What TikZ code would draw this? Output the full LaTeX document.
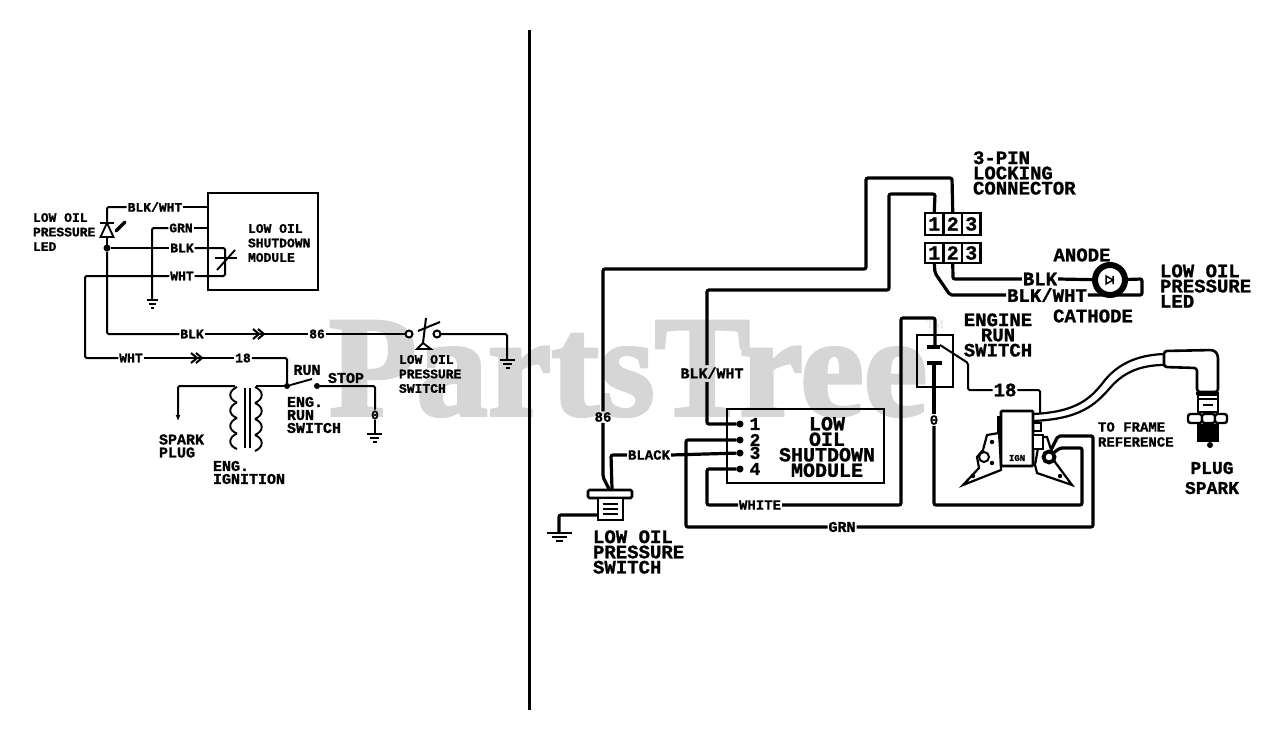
\documentclass[tikz,border=0pt]{standalone}
\usepackage{fontspec}
\usetikzlibrary{arrows.meta}
\setmainfont{Liberation Mono}[BoldFeatures={FakeBold=1.2}]
\newfontfamily\wmfont{Liberation Serif}[BoldFeatures={FakeBold=2.5}]
\definecolor{wmgray}{gray}{0.84}
\tikzset{
  x=1pt,y=-1pt,
  every node/.style={inner sep=1pt,outer sep=0pt,text=black},
  lab/.style 2 args={font=\bfseries\fontsize{#1}{#2}\selectfont},
  ls/.style={lab={13}{14.5}},
  lm/.style={lab={15}{13}},
  ll/.style={lab={19}{15.2}},
  wthin/.style={line width=2pt,rounded corners=1.5pt},
  wthick/.style={line width=3.2pt,rounded corners=2pt},
  boxl/.style={line width=2.2pt},
  boxr/.style={line width=2.6pt},
  dotn/.style={circle,fill=black,minimum size=7pt,inner sep=0pt},
  ring/.style={circle,draw=black,line width=2pt,fill=white,minimum size=7pt,inner sep=0pt},
  chev/.style={line width=2pt},
}
\begin{document}
\begin{tikzpicture}
\useasboundingbox (0,0) rectangle (1280,742);
% watermark
\node[anchor=base west,text=wmgray,font=\wmfont\bfseries\fontsize{143}{143}\selectfont] (wm) at (328,415) {PartsTree};
\node[anchor=center,text=wmgray!70,font=\wmfont\fontsize{12}{12}\selectfont] (tm) at (935,325) {TM};
% divider
\draw[line width=3pt] (529,30) coordinate (da) -- (529,710) coordinate (db);

%%%% LEFT SCHEMATIC
\node[draw,boxl,minimum width=110pt,minimum height=97pt,anchor=north west] (lmod) at (208,193) {};
\node[ls,align=left,anchor=west] (lmodt) at (247,243) {LOW OIL\\SHUTDOWN\\MODULE};
\node[ls,align=left,anchor=west] (lledt) at (32,232) {LOW OIL\\PRESSURE\\LED};
\node[ls] (bw) at (155,207) {BLK/WHT};
\node[ls] (grn) at (181,228) {GRN};
\node[ls] (blk) at (182,248) {BLK};
\node[ls] (wht) at (182,276) {WHT};
\node[dotn] (jn) at (107,248) {};
\coordinate (p1) at (208,207); \coordinate (p2) at (208,228); \coordinate (p3) at (225,248); \coordinate (p4) at (225,276);
\coordinate (ledtop) at (107,223); \coordinate (ledbot) at (107,237);
\coordinate (gnd1) at (152,300);
\draw[wthin] (ledtop) -- (107,207) -- (bw.west);
\draw[wthin] (bw.east) -- (p1);
\draw[wthin] (grn.east) -- (p2);
\draw[wthin] (grn.west) -- (152,228) -- (gnd1);
\draw[wthin] (ledbot) -- (jn);
\draw[wthin] (jn) -- (blk.west);
\draw[wthin] (blk.east) -- (p3) -- (p4) -- (wht.east);
% variable resistor
\draw[line width=1.9pt] (215,258) -- (237,258);
\draw[line width=1.9pt] (217,270) -- (235,250);
% LED symbol
\draw[line width=1.8pt] (100,223) -- (114,223);
\draw[line width=1.8pt] (107,223) -- (100.5,237) -- (113.5,237) -- cycle;
\draw[line width=3.4pt,line cap=round] (116,231) -- (125,222);
% ground 1
\draw[line width=1.8pt] (147,300) -- (158,300) (149,304) -- (156,304) (151,308) -- (154,308);
% WHT and BLK runs
\node[ls] (w2) at (131,358) {WHT};
\node[ls] (w18) at (243,358) {18};
\node[ls] (b2) at (192,334) {BLK};
\node[ls] (b86) at (317,334) {86};
\coordinate (chw) at (196,358); \coordinate (chb) at (258,334);
\draw[wthin] (wht.west) -- (85,276) -- (85,358) -- (w2.west);
\draw[wthin] (w2.east) -- (chw) -- (w18.west);
\draw[wthin] (jn) -- (107,334) -- (b2.west);
\draw[wthin] (b2.east) -- (chb) -- (b86.west);
\foreach \dx in {-5,0}{
 \draw[chev] ([xshift=\dx pt,yshift=5pt]chw) -- ([xshift=\dx pt+6pt]chw) -- ([xshift=\dx pt,yshift=-5pt]chw);
 \draw[chev] ([xshift=\dx pt,yshift=5pt]chb) -- ([xshift=\dx pt+6pt]chb) -- ([xshift=\dx pt,yshift=-5pt]chb);
}
% pressure switch
\node[ring] (sw1) at (409,334) {};
\node[ring] (sw2) at (437,334) {};
\coordinate (gnd2) at (507,360);
\draw[wthin] (b86.east) -- (sw1);
\draw[wthin] (sw2) -- (507,334) -- (gnd2);
\draw[line width=2pt] (418,331) -- (440,322);
\draw[line width=2pt] (426,318) -- (423,343);
\draw[line width=1.8pt,fill=white] (423,343) -- (417,349) -- (431,349) -- cycle;
\draw[line width=1.8pt] (500,360) -- (515,360) (503,364) -- (512,364) (505.5,368) -- (509.5,368);
\node[ls,align=left,anchor=west] (lpst) at (398,374) {LOW OIL\\PRESSURE\\SWITCH};
% run switch
\node[dotn,minimum size=6pt] (r1) at (287,386) {};
\node[dotn,minimum size=6pt] (r2) at (317,386) {};
\draw[wthin] (w18.east) -- (287,358) -- (r1);
\draw[line width=1.9pt] (r1) -- (312,379);
\node[lm] (run) at (307,370) {RUN};
\node[lm] (stop) at (346,378) {STOP};
\node[ls] (zero) at (375,415) {0};
\draw[wthin] (r2) -- (375,386) -- (zero.north);
\coordinate (gnd3) at (375,434);
\draw[wthin] (zero.south) -- (gnd3);
\draw[line width=1.8pt] (367,434) -- (382,434) (370,438) -- (379,438) (373,442) -- (377,442);
\node[lm,align=left,anchor=west] (ers) at (286,415) {ENG.\\RUN\\SWITCH};
% ignition coil
\coordinate (coilL) at (235,386); \coordinate (coilR) at (256,386);
\draw[wthin] (r1) -- (coilR);
\draw[wthin,-{Latex[length=6pt,width=5pt]}] (coilL) -- (178,386) -- (178,421);
\foreach \i in {0,1,2,3}{
 \draw[line width=1.9pt] (237,387+\i*15.5) .. controls (228,391+\i*15.5) and (228,399+\i*15.5) .. (237,402.5+\i*15.5);
 \draw[line width=1.9pt] (255,387+\i*16) .. controls (264,391+\i*16) and (264,399+\i*16) .. (255,403+\i*16);
}
\draw[line width=1.7pt] (245,388) -- (245,448) (250,388) -- (250,448);
\node[lm,align=left,anchor=west] (spk) at (158,446) {SPARK\\PLUG};
\node[lm,align=left,anchor=west] (ign) at (212,472.5) {ENG.\\IGNITION};

%%%% RIGHT WIRING
% connector
\foreach \n/\xx in {1/925,2/943.5,3/962}{
 \node[draw,boxr,minimum width=18.5pt,minimum height=22pt,anchor=north west,inner sep=0pt,lab={20}{20}] (ct\n) at (\xx,213) {\n};
 \node[draw,boxr,minimum width=18.5pt,minimum height=20pt,anchor=north west,inner sep=0pt,lab={20}{20}] (cb\n) at (\xx,243) {\n};
}
\node[ll,align=left,anchor=west] (conn) at (972,173) {3-PIN\\LOCKING\\CONNECTOR};
% module
\node[draw,boxr,minimum width=157pt,minimum height=74pt,anchor=north west] (rmod) at (727,409) {};
\node[lab={20}{15.5},align=center] (rmodt) at (827,447) {LOW\\OIL\\SHUTDOWN\\MODULE};
\foreach \n/\yy in {1/424,2/440,3/453,4/469}{
 \node[dotn] (d\n) at (740,\yy) {};
 \node[lab={18}{18}] (n\n) at (755,\yy) {\n};
}
% labels
\node[lab={15}{15}] (rbw) at (712,373) {BLK/WHT};
\node[lab={14}{14}] (r86) at (603,417) {86};
\node[lab={14}{14}] (rblack) at (649,455) {BLACK};
\node[lab={14}{14}] (rwhite) at (760,505) {WHITE};
\node[lab={15}{15}] (rgrn) at (842,527) {GRN};
\node[ll] (r18) at (1005,390) {18};
\node[lab={14}{14}] (r0) at (934,420) {0};
\node[ll] (rblk) at (1040,279) {BLK};
\node[ll] (rbw2) at (1047,295) {BLK/WHT};
\node[ll] (an) at (1082,255) {ANODE};
\node[ll] (ca) at (1093,316) {CATHODE};
\node[ll,align=left,anchor=west] (lled2) at (1159,286) {LOW OIL\\PRESSURE\\LED};
\node[ll,align=center] (ers2) at (998,335) {ENGINE\\RUN\\SWITCH};
\node[lab={14}{15},align=left,anchor=west] (fr) at (1097,434.5) {TO FRAME\\REFERENCE};
\node[lab={18}{20},align=center] (pl) at (1212,478) {PLUG\\SPARK};
\node[ll,align=left,anchor=west] (lps2) at (592,552) {LOW OIL\\PRESSURE\\SWITCH};
% oil pressure switch
\draw[boxr,fill=white,rounded corners=1.5pt] (588,490) rectangle (632,498);
\node[draw,boxr,fill=white,minimum width=25pt,minimum height=22pt,anchor=north west] (ps) at (598,498) {};
\draw[line width=2.2pt] (603,504) -- (618,504) (603,509) -- (618,509) (603,514) -- (618,514);
\coordinate (psa) at (609,489); \coordinate (psb) at (612,489);
% wires
\draw[wthick] (ct2.north) -- (952,178) -- (866,178) -- (866,269) -- (603,269) -- (r86.north);
\draw[wthick] (r86.south) -- (603,477) -- (psa);
\draw[wthick] (ct1.north) -- (935,194) -- (889,194) -- (889,290) -- (707,290) -- (707,365);
\draw[wthick] (707,382) -- (707,424) -- (d1);
\draw[wthick] (d2) -- (686,440) -- (686,527) -- (rgrn.west);
\draw[wthick] (rgrn.east) -- (1093,527) -- (1093,436) -- (1058,436) -- (1050,452);
\draw[wthick] (d3) -- (rblack.east);
\draw[wthick] (rblack.west) -- (611,455) -- (psb);
\draw[wthick] (d4) -- (707,469) -- (707,505) -- (rwhite.west);
\draw[wthick] (rwhite.east) -- (901,505) -- (901,318) -- (935,318) -- (935,345);
\draw[wthick] (598,515) -- (559,515) -- (559,533);
\draw[line width=2.4pt] (547,533) -- (572,533) (552,537) -- (567,537) (556,541) -- (563,541);
% led
\node[circle,draw,line width=6pt,minimum size=30pt,inner sep=0pt,fill=white] (led) at (1110,280) {};
\draw[line width=1.5pt] (1106,276) -- (1106,284) -- (1113,280) -- cycle (1113,276) -- (1113,284);
\draw[wthick] (cb2.south) -- (953,279) -- (rblk.west);
\draw[wthick] (rblk.east) -- (led);
\draw[wthick] (cb1.south) -- (935,273) -- (950,295) -- (rbw2.west);
\draw[wthick] (rbw2.east) -- (1142,295) -- (1142,279) -- (led);
% engine run switch
\node[draw,boxr,minimum width=36pt,minimum height=52pt,anchor=north west] (es) at (917,335) {};
\draw[line width=3.2pt] (927,347) -- (940,347) (927,363) -- (942,363);
\draw[wthick] (934,363) -- (r0.north);
\draw[wthick] (r0.south) -- (934,505) -- (1082,505) -- (1082,448) -- (1060,448) -- (1052,454);
\draw[wthin] (940,345) -- (968,363) -- (968,390) -- (r18.west);
\draw[wthin] (r18.east) -- (1040,390) -- (1040,413);
% ignition module
\draw[line width=2.2pt,fill=white] (999,433) -- (987,435) -- (983,450) -- (977,457) -- (979,468) -- (963,485) -- (1001,470) -- (1001,465) -- cycle;
\draw[line width=2.2pt,fill=white] (1035,465) -- (1037,473) -- (1072,485) -- (1055,462) -- (1047,437) -- (1040,437) -- cycle;
\node[draw,line width=2.6pt,fill=white,rounded corners=1pt,minimum width=32pt,minimum height=55pt,anchor=north west] (ignb) at (1001,411) {};
\draw[line width=3.5pt] (999,416) -- (999,432);
\node[lab={9}{9}] (ignt) at (1017,458) {IGN};
\draw[line width=2pt] (1033,423) rectangle (1041,431);
\draw[line width=2pt,fill=white] (1033,435) rectangle (1043,449);
\node[circle,draw,line width=2pt,fill=white,minimum size=10pt,inner sep=0pt] (hl) at (984,457) {};
\node[circle,draw,line width=3.8pt,fill=white,minimum size=11pt,inner sep=0pt] (hr) at (1049,457) {};
\fill (992,442) circle (2.2pt) (992,463) circle (2.2pt) (973,476) circle (2.2pt) (1060,476) circle (2.2pt);
% HT lead and boot
\draw[line width=2.2pt] (1033,414) .. controls (1075,412) and (1090,400) .. (1105,380) .. controls (1120,362) and (1140,355) .. (1164,354);
\draw[line width=2.2pt] (1033,421) .. controls (1080,419) and (1095,405) .. (1110,388) .. controls (1125,370) and (1145,365) .. (1164,365);
% spark plug
\draw[line width=2.6pt,fill=white,rounded corners=3pt] (1164,351) -- (1214,350) -- (1218,355) -- (1218,392) -- (1197,392) -- (1197,368) -- (1164,367) -- cycle;
\fill (1196,392) rectangle (1219,395);
\draw[line width=2.2pt,fill=white] (1198,395) rectangle (1218,412);
\draw[line width=2.2pt] (1198,399) -- (1218,399) (1203,405) -- (1213,405);
\foreach \xa/\xb in {1188/1202,1202/1215,1215/1227}{
 \draw[line width=2.4pt,fill=white,rounded corners=2.5pt] (\xa,414) rectangle (\xb,423);
}
\fill (1197,424) rectangle (1219,442);
\fill (1210,445) circle (3pt);
\end{tikzpicture}
\end{document}
